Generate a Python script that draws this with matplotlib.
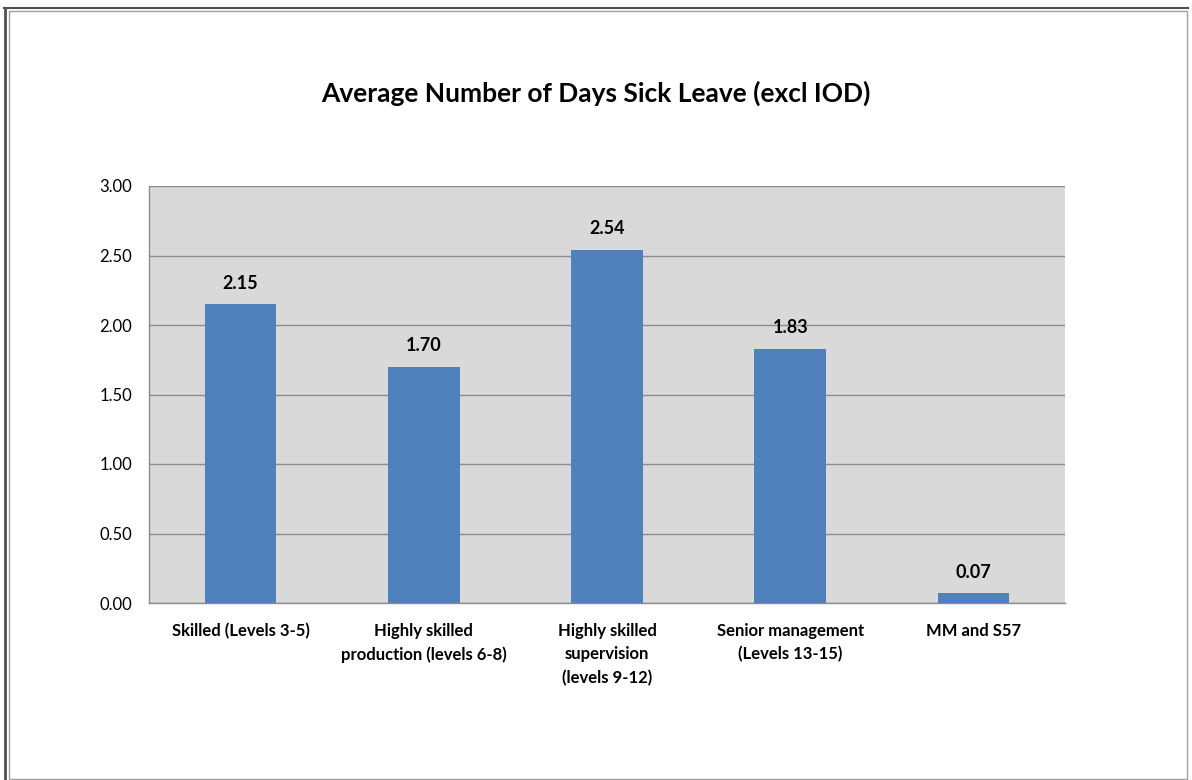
import matplotlib
matplotlib.use("Agg")
import matplotlib.pyplot as plt
from matplotlib.patches import Rectangle
from matplotlib.lines import Line2D

plt.rcParams['font.family'] = ['Lato', 'DejaVu Sans']

categories = ["Skilled (Levels 3-5)", "Highly skilled\nproduction (levels 6-8)",
              "Highly skilled\nsupervision\n(levels 9-12)", "Senior management\n(Levels 13-15)",
              "MM and S57"]
values = [2.15, 1.70, 2.54, 1.83, 0.07]
yticks = [0.0, 0.5, 1.0, 1.5, 2.0, 2.5, 3.0]
title = "Average Number of Days Sick Leave (excl IOD)"

W, H = 1192, 780
fig = plt.figure(figsize=(W / 100, H / 100), dpi=100)

def fx(px):
    return px / W

def fy(py):
    return 1 - py / H

# outer borders: dark left/top, light frame
fig.lines.append(Line2D([fx(5), fx(5)], [fy(780), fy(7.5)], transform=fig.transFigure,
                        color="#505050", linewidth=2.0))
fig.lines.append(Line2D([fx(4), fx(1188)], [fy(7.5), fy(7.5)], transform=fig.transFigure,
                        color="#505050", linewidth=1.5))
fig.patches.append(Rectangle((fx(9), fy(779)), (1187 - 9) / W, (779 - 10.5) / H,
                             transform=fig.transFigure, fill=False, edgecolor="#A0A0A0",
                             linewidth=1.0))

left, right, top, bottom = 149, 1065, 186, 603
ax = fig.add_axes([left / W, 1 - bottom / H, (right - left) / W, (bottom - top) / H])
ax.set_facecolor("#D9D9D9")
x = range(len(categories))
ax.bar(x, values, width=0.39, color="#4F81BD", zorder=3)
ax.set_xlim(-0.5, len(categories) - 0.5)
ax.set_ylim(0, 3.0)
ax.set_yticks(yticks)
ax.set_yticklabels([f"{v:.2f}" for v in yticks], fontsize=12)
ax.yaxis.grid(True, color="#8C8C8C", linewidth=1.0, zorder=0)
ax.set_axisbelow(True)
ax.tick_params(axis="y", length=0, pad=12)
ax.tick_params(axis="x", length=0, pad=14.5)
ax.set_xticks(list(x))
ax.set_xticklabels(categories, fontsize=12, fontweight="bold", linespacing=1.55, va="top")
for s in ["top", "right"]:
    ax.spines[s].set_visible(False)
for s in ["left", "bottom"]:
    ax.spines[s].set_color("#8C8C8C")
    ax.spines[s].set_linewidth(1.0)

for xi, v in zip(x, values):
    ax.annotate(f"{v:.2f}", (xi, v), xytext=(0, 9), textcoords="offset points",
                ha="center", va="bottom", fontsize=13, fontweight="bold")

fig.text(0.5, fy(93), title, ha="center", va="center", fontsize=19, fontweight="bold")

fig.savefig("out.png", dpi=100)
